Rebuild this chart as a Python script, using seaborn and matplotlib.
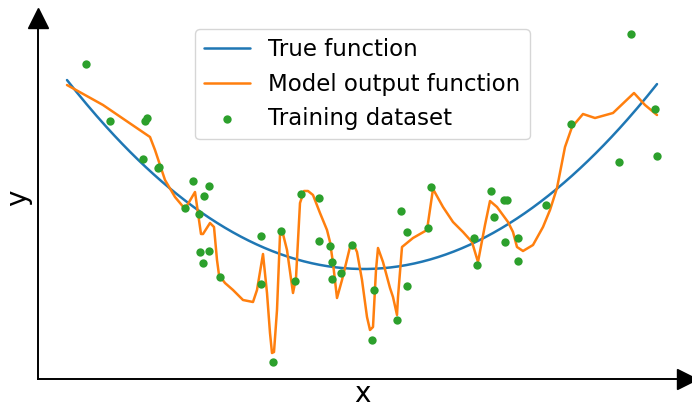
import numpy as np
import pandas as pd
import matplotlib
matplotlib.use("Agg")
import matplotlib.pyplot as plt
import seaborn as sns

# Training samples (x, y)
train_x = [48, 72, 107, 109, 105, 120, 121, 155, 171, 166, 147, 161, 162, 171, 165,
           182, 223, 223, 235, 243, 257, 263, 281, 281, 292, 294, 294, 303, 314, 336,
           334, 359, 369, 363, 369, 390, 393, 436, 439, 453, 456, 466, 469, 467, 480,
           480, 508, 533, 593, 617, 581, 619]
train_y = [315, 258, 258, 261, 220, 211, 212, 198, 193, 183, 171, 165, 127, 128, 116,
           102, 143, 95, 17, 148, 98, 185, 181, 138, 133, 117, 100, 106, 134, 89,
           39, 59, 93, 168, 147, 151, 192, 141, 114, 188, 162, 179, 179, 137, 141,
           118, 174, 255, 345, 270, 217, 223]

# Model output sampled along x
model_x = [29, 47, 65, 87, 112, 117, 122, 127, 137, 147, 157, 163, 165, 172, 176,
           179, 181, 187, 195, 205, 215, 219, 225, 229, 232, 234, 236, 239, 242, 245,
           249, 255, 258, 262, 266, 270, 275, 282, 289, 292, 295, 299, 304, 312, 315,
           319, 324, 329, 332, 335, 338, 340, 345, 352, 355, 359, 360, 364, 375, 389,
           395, 405, 415, 425, 434, 440, 447, 452, 459, 470, 475, 479, 485, 495, 505,
           512, 519, 527, 534, 545, 557, 575, 596, 607, 619]
model_y = [294, 284, 274, 259, 242, 229, 214, 199, 182, 170, 187, 145, 145, 156, 152,
           119, 104, 96, 89, 79, 77, 89, 125, 86, 46, 26, 27, 69, 144, 145,
           129, 86, 101, 176, 188, 188, 184, 166, 149, 137, 116, 81, 99, 132, 136,
           127, 99, 62, 49, 52, 109, 131, 117, 91, 82, 64, 82, 132, 141, 149,
           190, 172, 157, 147, 137, 117, 154, 178, 172, 157, 147, 132, 128, 134, 152,
           169, 191, 232, 252, 265, 261, 266, 286, 274, 264]

# True function: parabola given by its vertex and curvature
true_vertex = (325.6, 110.0)
true_curvature = 0.002148
true_x_range = (29, 619)

sns.set_style("white")
plt.rcParams["font.family"] = ["DejaVu Sans"]
plt.rcParams["text.color"] = "black"
plt.rcParams["axes.labelcolor"] = "black"

fig = plt.figure(figsize=(6.92, 4.09), dpi=100)
ax = fig.add_axes([38 / 692, 30 / 409, 649 / 692, 361.5 / 409])

tx = np.linspace(true_x_range[0], true_x_range[1], 300)
ty = true_vertex[1] + true_curvature * (tx - true_vertex[0]) ** 2
true_df = pd.DataFrame({"x": tx, "y": ty})
model_df = pd.DataFrame({"x": model_x, "y": model_y})
train_df = pd.DataFrame({"x": train_x, "y": train_y})

sns.lineplot(data=true_df, x="x", y="y", ax=ax, color="#1f77b4", lw=1.8,
             sort=False, estimator=None, label="True function")
sns.lineplot(data=model_df, x="x", y="y", ax=ax, color="#ff7f0e", lw=1.8,
             sort=False, estimator=None, label="Model output function")
sns.scatterplot(data=train_df, x="x", y="y", ax=ax, color="#2ca02c", s=36,
                linewidth=0, label="Training dataset", zorder=3)

ax.set_xlim(0, 649)
ax.set_ylim(0, 361.5)
ax.set_xticks([])
ax.set_yticks([])
for side in ("top", "right"):
    ax.spines[side].set_visible(False)
for side in ("left", "bottom"):
    ax.spines[side].set_color("black")
    ax.spines[side].set_linewidth(1.4)

# Arrow heads at the ends of the axes
ax.plot(1, 0, ">k", ms=14, transform=ax.get_yaxis_transform(), clip_on=False)
ax.plot(0, 1, "^k", ms=14, transform=ax.get_xaxis_transform(), clip_on=False)

ax.set_xlabel("x", fontsize=20, labelpad=1)
ax.set_ylabel("y", fontsize=20, labelpad=4)

leg = ax.legend(loc="upper center", fontsize=16.5, handlelength=2.0, frameon=True)
for t in leg.get_texts():
    t.set_color("black")

fig.savefig("out.png", dpi=100)
